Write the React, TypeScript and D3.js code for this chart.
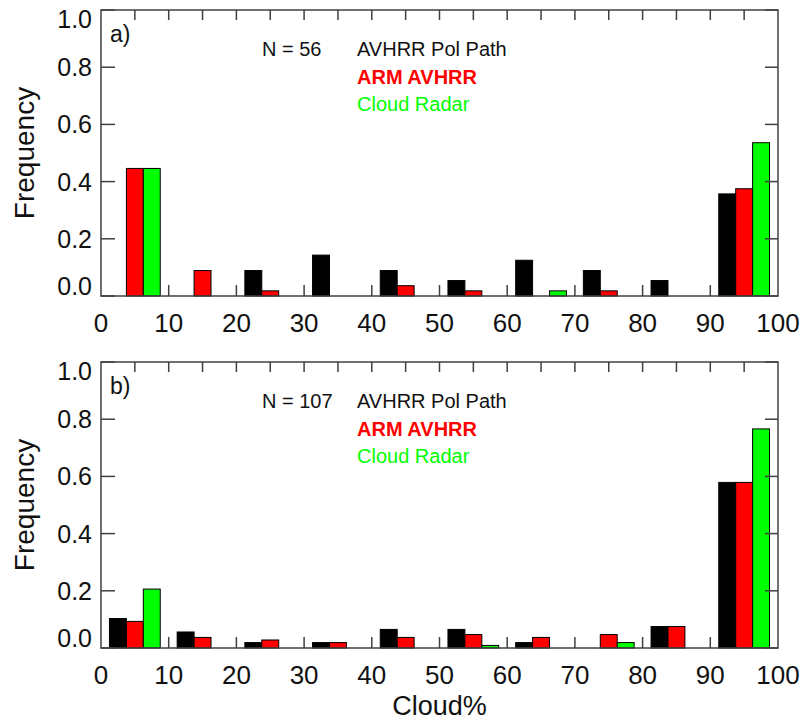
import * as d3 from "d3";
import React, { useRef, useEffect } from "react";

// bin starts (Cloud %), each bin is 10 wide
const bins = [0, 10, 20, 30, 40, 50, 60, 70, 80, 90];

// panel a) N = 56
const polPathA = [0, 0, 0.089, 0.143, 0.089, 0.054, 0.125, 0.089, 0.054, 0.357];
const armA = [0.446, 0.089, 0.018, 0, 0.036, 0.018, 0, 0.018, 0, 0.375];
const radarA = [0.446, 0, 0, 0, 0, 0, 0.018, 0, 0, 0.536];

// panel b) N = 107
const polPathB = [0.103, 0.056, 0.019, 0.019, 0.065, 0.065, 0.019, 0, 0.075, 0.579];
const armB = [0.093, 0.037, 0.028, 0.019, 0.037, 0.047, 0.037, 0.047, 0.075, 0.579];
const radarB = [0.206, 0, 0, 0, 0, 0.009, 0, 0.019, 0, 0.766];

const yTicks = [0, 0.2, 0.4, 0.6, 0.8, 1.0];
const xTicks = [0, 10, 20, 30, 40, 50, 60, 70, 80, 90, 100];
const seriesNames = ["AVHRR Pol Path", "ARM AVHRR", "Cloud Radar"];
const seriesColors = ["#000000", "#ff0000", "#00ff00"];

const panels = [
  { label: "a)", n: "N = 56", series: [polPathA, armA, radarA], top: 10 },
  { label: "b)", n: "N = 107", series: [polPathB, armB, radarB], top: 362 },
];

const App = () => {
  const svgRef = useRef(null);

  useEffect(() => {
    const svg = d3.select(svgRef.current);
    svg.selectAll("*").remove();

    const left = 101;
    const right = 778;
    const plotH = 286;
    const font = "'Liberation Sans', Arial, Helvetica, sans-serif";
    const axisColor = "#404040";

    const x = d3.scaleLinear().domain([0, 100]).range([left, right]);
    const barW = 2.5; // bar width in data units

    panels.forEach((p) => {
      const y = d3.scaleLinear().domain([0, 1]).range([p.top + plotH, p.top]);
      const g = svg.append("g");

      // bars
      p.series.forEach((vals, k) => {
        g.selectAll(null)
          .data(bins.map((b, i) => ({ b, v: vals[i] })).filter((d) => d.v > 0))
          .enter()
          .append("rect")
          .attr("x", (d) => x(d.b + 1.25 + k * barW))
          .attr("width", x(barW) - x(0))
          .attr("y", (d) => y(d.v))
          .attr("height", (d) => y(0) - y(d.v))
          .attr("fill", seriesColors[k])
          .attr("stroke", "#000")
          .attr("stroke-width", 1);
      });

      // frame
      g.append("rect")
        .attr("x", left)
        .attr("y", p.top)
        .attr("width", right - left)
        .attr("height", plotH)
        .attr("fill", "none")
        .attr("stroke", axisColor)
        .attr("stroke-width", 1.5);

      // y ticks, left and right
      yTicks.forEach((t) => {
        g.append("line")
          .attr("x1", left).attr("x2", left + 14)
          .attr("y1", y(t)).attr("y2", y(t))
          .attr("stroke", axisColor).attr("stroke-width", 1.5);
        g.append("line")
          .attr("x1", right - 13).attr("x2", right)
          .attr("y1", y(t)).attr("y2", y(t))
          .attr("stroke", axisColor).attr("stroke-width", 1.5);
        // end labels are kept inside the frame height, like the original
        const dy = t === 0 ? "-0.05em" : t === 1 ? "0.72em" : "0.36em";
        g.append("text")
          .attr("x", 92)
          .attr("y", y(t))
          .attr("dy", dy)
          .attr("text-anchor", "end")
          .style("font-family", font)
          .style("font-size", "25px")
          .attr("fill", "#111")
          .text(d3.format(".1f")(t));
      });

      // x ticks: bottom every 10, top every 5
      d3.range(5, 100, 5).forEach((t) => {
        g.append("line")
          .attr("x1", x(t)).attr("x2", x(t))
          .attr("y1", p.top).attr("y2", p.top + 10)
          .attr("stroke", axisColor).attr("stroke-width", 1.5);
        if (t % 10 === 0) {
          g.append("line")
            .attr("x1", x(t)).attr("x2", x(t))
            .attr("y1", p.top + plotH - 11).attr("y2", p.top + plotH)
            .attr("stroke", axisColor).attr("stroke-width", 1.5);
        }
      });
      xTicks.forEach((t) => {
        g.append("text")
          .attr("x", x(t))
          .attr("y", p.top + plotH + 36)
          .attr("text-anchor", "middle")
          .style("font-family", font)
          .style("font-size", "26px")
          .attr("fill", "#111")
          .text(t);
      });

      // y title
      g.append("text")
        .attr("transform", `translate(34,${p.top + plotH / 2}) rotate(-90)`)
        .attr("text-anchor", "middle")
        .style("font-family", font)
        .style("font-size", "28px")
        .attr("fill", "#111")
        .text("Frequency");

      // panel label
      g.append("text")
        .attr("x", 110)
        .attr("y", p.top + 32)
        .style("font-family", font)
        .style("font-size", "23px")
        .attr("fill", "#111")
        .text(p.label);

      // N and legend
      g.append("text")
        .attr("x", 262)
        .attr("y", p.top + 46)
        .style("font-family", font)
        .style("font-size", "20px")
        .attr("fill", "#111")
        .text(p.n);

      seriesNames.forEach((name, k) => {
        g.append("text")
          .attr("x", 357)
          .attr("y", p.top + 46 + k * 27.5)
          .style("font-family", font)
          .style("font-size", "20px")
          .style("font-weight", k === 1 ? "bold" : "normal")
          .attr("fill", k === 0 ? "#111" : seriesColors[k])
          .text(name);
      });
    });

    // x title
    svg.append("text")
      .attr("x", (left + right) / 2)
      .attr("y", 715)
      .attr("text-anchor", "middle")
      .style("font-family", font)
      .style("font-size", "27px")
      .attr("fill", "#111")
      .text("Cloud%");
  }, []);

  return (
    <svg
      ref={svgRef}
      width={804}
      height={721}
      style={{ position: "absolute", left: 0, top: 0, background: "#fff" }}
    ></svg>
  );
};

export default App;
